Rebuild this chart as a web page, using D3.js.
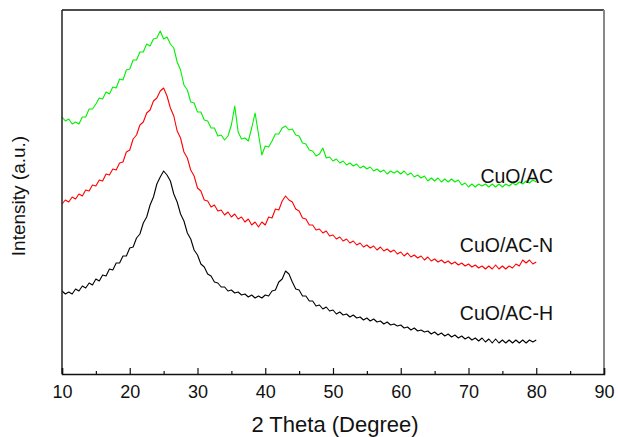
<!DOCTYPE html>
<html>
<head>
<meta charset="utf-8">
<script src="https://cdn.jsdelivr.net/npm/d3@7"></script>
<style>
  body { margin: 0; background: #fff; }
  svg { display: block; font-family: "Liberation Sans", Arial, sans-serif; }
</style>
</head>
<body>
<svg id="chart" width="618" height="437"></svg>
<script>
// 2θ grid (degrees), 10 to 80 in 0.5° steps
const twoTheta = d3.range(10, 80.001, 0.5);

// Intensities (a.u., offset-stacked as in the figure)
const cuoAC = [
  263,259,261,256,258,256,263,263,271,271,
  276,282,281,288,286,293,292,301,300,310,
  311,320,320,328,328,336,334,341,342,349,
  341,343,336,332,318,310,295,290,278,277,
  268,268,260,259,252,252,244,245,240,244,
  255,274,248,241,242,239,252,267,246,225,
  234,233,239,246,246,252,254,250,251,245,
  244,237,236,230,229,224,226,232,222,223,
  219,221,217,219,215,217,214,216,212,214,
  211,213,209,211,208,210,206,209,207,209,
  206,209,205,207,203,205,202,204,199,202,
  199,202,198,201,198,201,198,200,195,197,
  193,196,193,196,194,196,193,196,193,196,
  193,196,194,197,195,198,196,199,197,200,
  198
];
const cuoACN = [
  176,180,178,183,181,186,184,190,189,195,
  194,200,199,206,205,211,210,217,218,228,
  230,241,245,255,258,267,270,279,282,289,
  292,284,272,264,249,242,228,222,210,204,
  192,189,180,179,173,175,169,170,165,168,
  163,166,161,163,158,161,155,158,153,158,
  155,163,162,171,170,179,184,180,178,171,
  169,162,161,155,155,150,151,147,149,144,
  145,141,143,139,141,137,139,135,137,133,
  135,132,134,130,133,129,131,128,130,126,
  128,124,127,123,125,122,124,120,123,119,
  121,118,120,117,119,116,118,115,117,114,
  116,113,115,112,114,111,114,111,115,111,
  114,111,114,112,116,114,120,117,120,116,
  118
];
const cuoACH = [
  89,86,88,86,91,89,94,92,97,95,
  101,99,105,104,111,110,117,117,124,124,
  132,133,142,146,157,163,175,183,196,203,
  209,205,199,186,178,166,159,147,141,130,
  125,116,113,106,104,98,97,93,93,89,
  90,87,88,85,86,83,85,82,84,82,
  85,84,89,90,98,101,109,106,98,91,
  90,84,84,79,79,74,75,71,73,69,
  70,66,68,65,66,63,65,62,63,60,
  62,59,61,58,59,56,58,55,56,54,
  55,52,53,50,52,49,50,48,49,46,
  48,45,47,44,46,43,45,42,44,41,
  43,40,42,39,42,38,41,37,41,37,
  40,37,40,37,40,37,40,37,40,38,
  40
];

const seriesNames = ["CuO/AC", "CuO/AC-N", "CuO/AC-H"];
const seriesColors = ["#00f000", "#ff0000", "#000000"];
const seriesValues = [cuoAC, cuoACN, cuoACH];
const labelIntensity = [197, 128, 60];   // label baselines, in intensity units

const xTicks = [10, 20, 30, 40, 50, 60, 70, 80, 90];
const xMinorTicks = [15, 25, 35, 45, 55, 65, 75, 85];
const xTitle = "2 Theta (Degree)";
const yTitle = "Intensity (a.u.)";

const svg = d3.select("#chart");
const L = 62, R = 604, T = 10, B = 374;

const x = d3.scaleLinear().domain([10, 90]).range([L, R]);
const y = d3.scaleLinear().domain([6, 370]).range([B, T]);

// curves
const line = d3.line().x(d => x(d[0])).y(d => y(d[1]));
seriesValues.forEach((vals, i) => {
  const pts = twoTheta.map((t, j) => [t, vals[j]]);
  svg.append("path")
    .attr("d", line(pts))
    .attr("fill", "none")
    .attr("stroke", seriesColors[i])
    .attr("stroke-width", 1.1)
    .attr("stroke-linejoin", "round");
});

// frame: top and right
svg.append("line").attr("x1", L).attr("x2", R).attr("y1", T).attr("y2", T)
  .attr("stroke", "#111").attr("stroke-width", 1.5);
svg.append("line").attr("x1", R).attr("x2", R).attr("y1", T).attr("y2", B)
  .attr("stroke", "#888").attr("stroke-width", 2);
// left axis (no ticks)
svg.append("line").attr("x1", L).attr("x2", L).attr("y1", T).attr("y2", B)
  .attr("stroke", "#222").attr("stroke-width", 1.5);

// bottom axis with inward ticks
const xAxis = d3.axisBottom(x).tickValues(xTicks).tickSize(-6).tickPadding(11)
  .tickFormat(d3.format("d"));
const gx = svg.append("g").attr("transform", `translate(0,${B})`).call(xAxis);
gx.select(".domain").attr("stroke", "#111").attr("stroke-width", 1.5);
gx.selectAll(".tick line").attr("stroke", "#111").attr("stroke-width", 1.2);
gx.selectAll(".tick text").attr("font-size", 18).attr("fill", "#111")
  .attr("font-family", "Liberation Sans, Arial, sans-serif");
const xMinorAxis = d3.axisBottom(x).tickValues(xMinorTicks).tickSize(-3).tickFormat("");
const gm = svg.append("g").attr("transform", `translate(0,${B})`).call(xMinorAxis);
gm.select(".domain").remove();
gm.selectAll(".tick line").attr("stroke", "#111").attr("stroke-width", 1.2);

// axis titles
svg.append("text").attr("x", 335).attr("y", 432)
  .attr("text-anchor", "middle").attr("font-size", 22).attr("fill", "#111")
  .text(xTitle);
svg.append("text")
  .attr("transform", `translate(25,${196}) rotate(-90)`)
  .attr("text-anchor", "middle").attr("font-size", 19).attr("fill", "#111")
  .text(yTitle);

// series labels
seriesNames.forEach((name, i) => {
  svg.append("text").attr("x", 553).attr("y", y(labelIntensity[i]))
    .attr("text-anchor", "end").attr("font-size", 19.5).attr("fill", "#111")
    .text(name);
});
</script>
</body>
</html>
